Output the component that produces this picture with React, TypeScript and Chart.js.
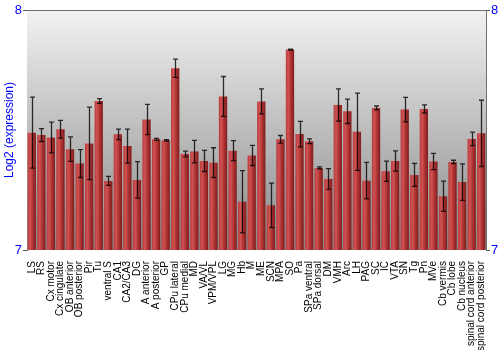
import React, { useEffect, useRef } from "react";
import { Chart, registerables } from "chart.js";

Chart.register(...registerables);

const categories = [
  "LS", "RS", "Cx motor", "Cx cingulate", "OB anterior", "OB posterior", "Pir", "Tu",
  "ventral S", "CA1", "CA2/CA3", "DG", "A anterior", "A posterior", "GP", "CPu lateral",
  "CPu medial", "MD", "VA/VL", "VPM/VPL", "LG", "MG", "Hb", "M", "ME", "SCN", "MPA", "SO",
  "Pa", "SPa ventral", "SPa dorsal", "DM", "VMH", "Arc", "LH", "PAG", "SC", "IC", "VTA",
  "SN", "Tg", "Pn", "MVe", "Cb vermis", "Cb lobe", "Cb nucleus", "spinal cord anterior",
  "spinal cord posterior",
];

const values = [
  7.489, 7.479, 7.469, 7.503, 7.42, 7.36, 7.444, 7.621,
  7.288, 7.482, 7.433, 7.292, 7.544, 7.461, 7.457, 7.757,
  7.4, 7.41, 7.371, 7.364, 7.64, 7.414, 7.201, 7.394, 7.619, 7.186, 7.461, 7.835,
  7.483, 7.453, 7.342, 7.296, 7.604, 7.578, 7.493, 7.289, 7.592, 7.328, 7.371,
  7.585, 7.313, 7.588, 7.369, 7.224, 7.367, 7.283, 7.463,
  7.486,
];

const errors = [
  0.148, 0.027, 0.064, 0.037, 0.051, 0.058, 0.151, 0.01,
  0.019, 0.022, 0.071, 0.076, 0.063, 0.004, 0.003, 0.038,
  0.012, 0.047, 0.044, 0.062, 0.083, 0.042, 0.13, 0.042, 0.052, 0.093, 0.016, 0.002,
  0.053, 0.01, 0.004, 0.043, 0.067, 0.051, 0.161, 0.076, 0.008, 0.042, 0.042,
  0.051, 0.048, 0.017, 0.034, 0.063, 0.007, 0.076, 0.028,
  0.138,
];

const yTicks = [7, 8];

const FONT = "'Liberation Sans', Arial, sans-serif";
const BAR_PCT = 0.87;

export default function App() {
  const ref = useRef<HTMLCanvasElement | null>(null);

  useEffect(() => {
    document.body.style.margin = "0";
    const canvas = ref.current;
    if (!canvas) return;

    const bgPlugin = {
      id: "bgGrad",
      beforeDatasetsDraw(chart: any) {
        const { ctx, chartArea: a } = chart;
        const g = ctx.createLinearGradient(0, a.top, 0, a.bottom);
        g.addColorStop(0, "#f2f2f2");
        g.addColorStop(1, "#888888");
        ctx.save();
        ctx.fillStyle = g;
        ctx.fillRect(a.left, a.top, a.right - a.left, a.bottom - a.top);
        ctx.strokeStyle = "#707070";
        ctx.lineWidth = 1;
        ctx.beginPath();
        ctx.moveTo(a.left, a.top + 0.5);
        ctx.lineTo(a.right, a.top + 0.5);
        ctx.stroke();
        ctx.restore();
      },
    };

    const errPlugin = {
      id: "errBars",
      afterDatasetsDraw(chart: any) {
        const { ctx } = chart;
        const ys = chart.scales.y;
        const meta = chart.getDatasetMeta(0);
        ctx.save();
        ctx.strokeStyle = "rgba(0,0,0,0.8)";
        ctx.lineWidth = 1.3;
        meta.data.forEach((el: any, i: number) => {
          const x = Math.round(el.x) + 0.5;
          const y1 = ys.getPixelForValue(values[i] + errors[i]);
          const y2 = ys.getPixelForValue(values[i] - errors[i]);
          ctx.beginPath();
          ctx.moveTo(x, y1);
          ctx.lineTo(x, y2);
          ctx.moveTo(x - 2.5, y1);
          ctx.lineTo(x + 2.5, y1);
          ctx.moveTo(x - 2.5, y2);
          ctx.lineTo(x + 2.5, y2);
          ctx.stroke();
        });
        ctx.restore();
      },
    };

    const barColor = (c: any) => {
      const chart = c.chart;
      const xs = chart.scales && chart.scales.x;
      if (!xs || !chart.chartArea) return "#b03030";
      const cx = xs.getPixelForValue(c.dataIndex);
      const w = ((xs.right - xs.left) / categories.length) * BAR_PCT;
      const g = chart.ctx.createLinearGradient(cx - w / 2, 0, cx + w / 2, 0);
      g.addColorStop(0, "#b83c3c");
      g.addColorStop(0.3, "#d05252");
      g.addColorStop(0.6, "#b03434");
      g.addColorStop(1, "#7e1c1c");
      return g;
    };

    const yAxis = (pos: string, width: number, withTitle: boolean) => ({
      position: pos,
      min: 7,
      max: 8,
      afterBuildTicks: (s: any) => {
        s.ticks = yTicks.map((v) => ({ value: v }));
      },
      ticks: {
        color: "#0000ff",
        font: { family: FONT, size: 13 },
        padding: 1,
      },
      grid: { drawOnChartArea: false, tickLength: 4, color: "#555555" },
      border: { display: true, color: "#707070" },
      title: {
        display: withTitle,
        text: "Log2 (expression)",
        color: "#0000ff",
        font: { family: FONT, size: 12 },
        padding: { top: 2, bottom: 0 },
      },
      afterFit: (s: any) => {
        s.width = width;
      },
    });

    const chart = new Chart(canvas, {
      type: "bar",
      data: {
        labels: categories,
        datasets: [
          {
            data: values,
            backgroundColor: barColor,
            borderWidth: 0,
            barPercentage: BAR_PCT,
            categoryPercentage: 1,
          },
        ],
      },
      options: {
        responsive: false,
        animation: false,
        layout: { padding: { top: 10, left: 0, right: 0, bottom: 0 } },
        plugins: { legend: { display: false }, tooltip: { enabled: false } },
        scales: {
          x: {
            grid: { display: false },
            border: { display: false },
            ticks: {
              autoSkip: false,
              minRotation: 90,
              maxRotation: 90,
              padding: 3,
              color: "#000000",
              font: { family: FONT, size: 10 },
            },
            afterFit: (s: any) => {
              s.height = 100;
            },
          },
          y: yAxis("left", 27, true) as any,
          y2: yAxis("right", 14, false) as any,
        },
      },
      plugins: [bgPlugin, errPlugin],
    });

    return () => chart.destroy();
  }, []);

  return <canvas ref={ref} width={500} height={350} style={{ display: "block" }} />;
}
